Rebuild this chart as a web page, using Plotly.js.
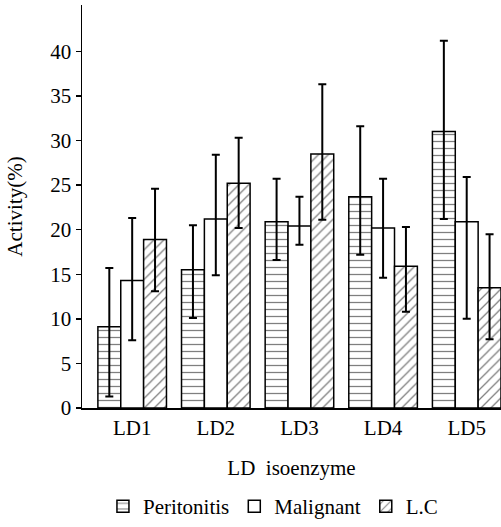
<!DOCTYPE html>
<html>
<head>
<meta charset="utf-8">
<script src="https://cdn.plot.ly/plotly-3.0.1.min.js"></script>
<style>html,body{margin:0;padding:0;background:#fff;}#chart{width:501px;height:527px;}</style>
</head>
<body>
<div id="chart"></div>
<script>
const categories = ["LD1", "LD2", "LD3", "LD4", "LD5"];
const peritonitis = [9.1, 15.5, 20.9, 23.7, 31.0];
const peritonitisErrPlus = [6.6, 5.0, 4.8, 7.9, 10.2];
const peritonitisErrMinus = [7.8, 5.4, 4.3, 6.5, 9.8];
const malignant = [14.3, 21.2, 20.4, 20.2, 20.9];
const malignantErrPlus = [7.0, 7.2, 3.3, 5.5, 5.0];
const malignantErrMinus = [6.7, 6.3, 2.1, 5.6, 10.9];
const lc = [18.9, 25.2, 28.5, 15.9, 13.5];
const lcErrPlus = [5.7, 5.1, 7.8, 4.4, 6.0];
const lcErrMinus = [5.8, 5.0, 7.4, 5.1, 5.8];
const yTicks = [0, 5, 10, 15, 20, 25, 30, 35, 40];

const FONT = '"Liberation Serif", "Times New Roman", serif';

function errBar(plus, minus) {
  return {type: "data", symmetric: false, array: plus, arrayminus: minus,
          color: "#000", thickness: 2, width: 4, visible: true};
}
function barTrace(name, values, plus, minus, shape) {
  return {
    type: "bar", name: name, x: categories, y: values,
    error_y: errBar(plus, minus),
    marker: {
      color: "#fff",
      line: {color: "#000", width: 1.5},
      pattern: {shape: shape, fgcolor: "#000", bgcolor: "#fff", size: 7, solidity: 0.18, fillmode: "overlay"}
    }
  };
}

const data = [
  barTrace("Peritonitis", peritonitis, peritonitisErrPlus, peritonitisErrMinus, "-"),
  barTrace("Malignant", malignant, malignantErrPlus, malignantErrMinus, ""),
  barTrace("L.C", lc, lcErrPlus, lcErrMinus, "/")
];

const layout = {
  width: 501, height: 527,
  margin: {l: 82, r: 0, t: 5, b: 119, pad: 0},
  paper_bgcolor: "#fff", plot_bgcolor: "#fff",
  font: {family: FONT, size: 21, color: "#000"},
  barmode: "group", bargap: 0.18, bargroupgap: 0,
  showlegend: true,
  legend: {orientation: "h", x: 0.05, xanchor: "left", y: -0.245, yanchor: "middle",
           font: {family: FONT, size: 21}, itemwidth: 30,
           traceorder: "normal", bgcolor: "rgba(0,0,0,0)"},
  xaxis: {
    type: "category", range: [-0.6, 4.41], automargin: false,
    showline: true, linecolor: "#000", linewidth: 1.5,
    ticks: "", showgrid: false, zeroline: false,
    tickfont: {family: FONT, size: 21},
    title: {text: "LD  isoenzyme", font: {family: FONT, size: 21}, standoff: 21}
  },
  yaxis: {
    range: [0, 45.2], tickvals: yTicks, ticktext: yTicks.map(String), automargin: false,
    showline: true, linecolor: "#000", linewidth: 1.5,
    ticks: "outside", ticklen: 5, tickwidth: 1.5, tickcolor: "#000",
    showgrid: false, zeroline: false,
    tickfont: {family: FONT, size: 21},
    title: {text: "Activity(%)", font: {family: FONT, size: 21}, standoff: 22}
  }
};

Plotly.newPlot("chart", data, layout, {staticPlot: true, displayModeBar: false});
</script>
</body>
</html>
